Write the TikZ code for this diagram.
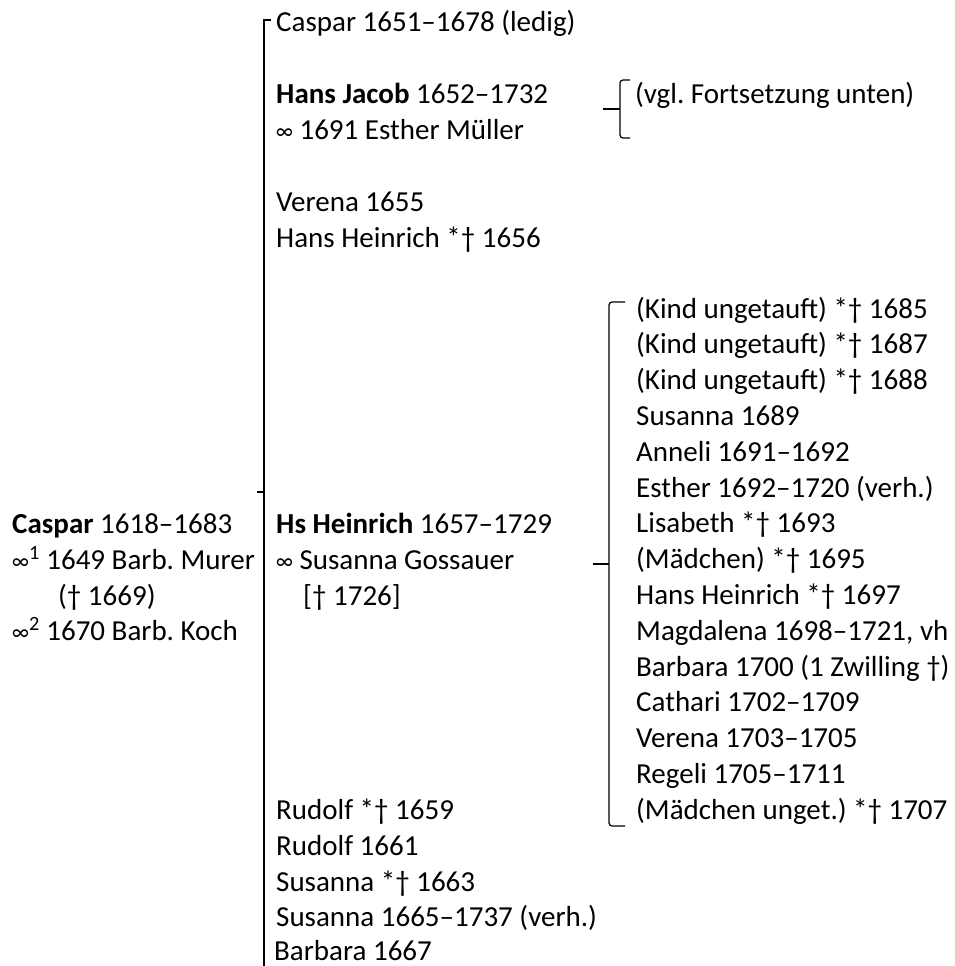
\documentclass[tikz,border=0pt]{standalone}
\usepackage{fontspec}
\setmainfont{Carlito}
\usepackage{tikz}
\usetikzlibrary{positioning}
\frenchspacing
\newcommand{\marr}{\scalebox{0.68}[0.85]{∞}}

\begin{document}
\begin{tikzpicture}[x=1pt,y=-1pt,
  txt/.style={anchor=base west,inner sep=0pt,font=\fontsize{29}{35}\selectfont},
  brk/.style={line width=1.6pt},
  brace/.style={line width=1.2pt,rounded corners=3pt}]
  \useasboundingbox (0,0) rectangle (955,966);

  % main bracket of the children
  \draw[brk] (264,966) -- (264,20) -- (271,20);
  \draw[brk] (264,492) -- (257,492);

  % father
  \node[txt] (father) at (12,533) {\textbf{Caspar} 1618–1683};
  \node[txt] (wife1) at (12,569) {\marr\textsuperscript{1} 1649 Barb. Murer};
  \node[txt] (wife1d) at (58,605) {(† 1669)};
  \node[txt] (wife2) at (12,640) {\marr\textsuperscript{2} 1670 Barb. Koch};

  % children
  \node[txt] (caspar) at (276,32) {Caspar 1651–1678 (ledig)};
  \node[txt] (hjacob) at (276,103) {\textbf{Hans Jacob} 1652–1732};
  \node[txt] (hjacobw) at (276,139) {\marr{} 1691 Esther Müller};
  \node[txt] (verena) at (276,211) {Verena 1655};
  \node[txt] (hheinr) at (276,247) {Hans Heinrich *† 1656};
  \node[txt] (hsheinr) at (276,533) {\textbf{Hs Heinrich} 1657–1729};
  \node[txt] (hsheinrw) at (276,569) {\marr{} Susanna Gossauer};
  \node[txt] (hsheinrwd) at (303,605) {[† 1726]};
  \node[txt] (rudolf1) at (276,819) {Rudolf *† 1659};
  \node[txt] (rudolf2) at (276,855) {Rudolf 1661};
  \node[txt] (susanna1) at (276,891) {Susanna *† 1663};
  \node[txt] (susanna2) at (276,926) {Susanna 1665–1737 (verh.)};
  \node[txt] (barbara) at (274,960) {Barbara 1667};

  % Hans Jacob
  \draw[brace] (630,80) -- (620,80) -- (620,138) -- (630,138);
  \draw[brace,rounded corners=0pt] (620,109) -- (603,109);
  \node[txt] (vgl) at (635,103) {(vgl. Fortsetzung unten)};

  % Hs Heinrich
  \draw[brace] (625,302) -- (609,302) -- (609,826) -- (625,826);
  \draw[brace,rounded corners=0pt] (609,564) -- (593,564);
  \foreach \t [count=\i from 0] in {%
      (Kind ungetauft) *† 1685,
      (Kind ungetauft) *† 1687,
      (Kind ungetauft) *† 1688,
      Susanna 1689,
      Anneli 1691–1692,
      Esther 1692–1720 (verh.),
      Lisabeth *† 1693,
      (Mädchen) *† 1695,
      Hans Heinrich *† 1697,
      {Magdalena 1698–1721, vh},
      Barbara 1700 (1 Zwilling †),
      Cathari 1702–1709,
      Verena 1703–1705,
      Regeli 1705–1711,
      (Mädchen unget.) *† 1707}
    \node[txt] (kid\i) at (636,{318+35.8*\i}) {\t};
\end{tikzpicture}
\end{document}
